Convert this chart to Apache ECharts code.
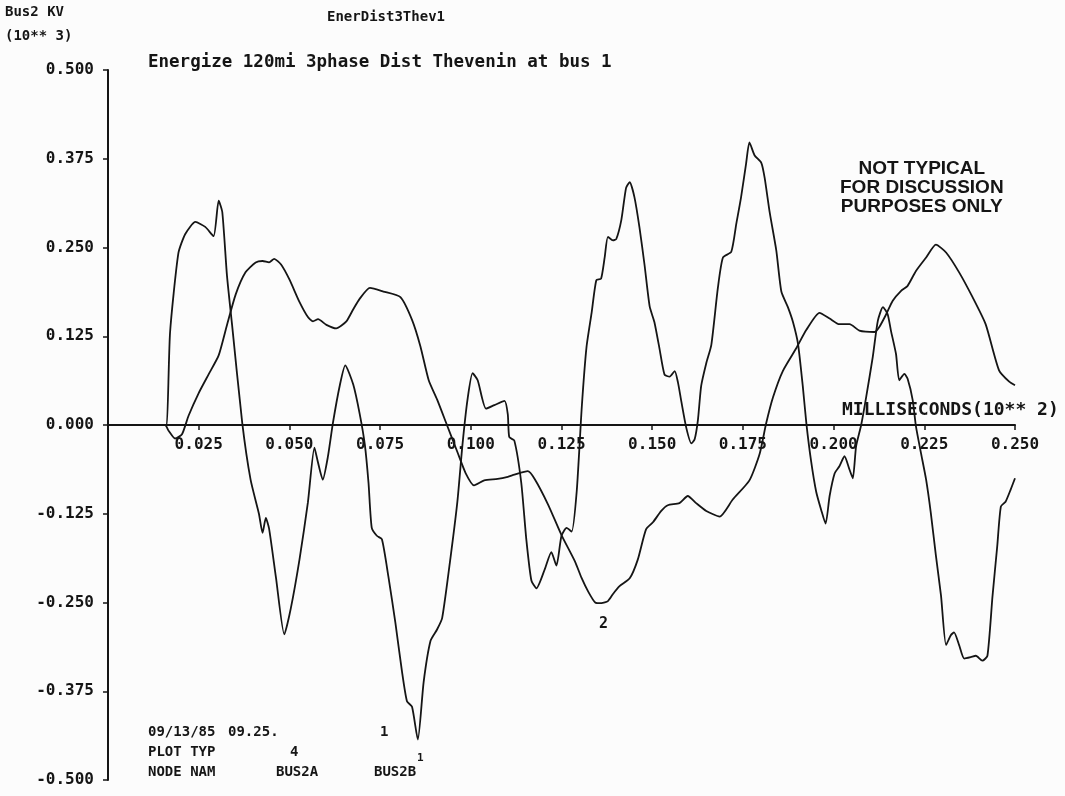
<!DOCTYPE html>
<html>
<head>
<meta charset="utf-8">
<script src="https://cdn.jsdelivr.net/npm/echarts@6/dist/echarts.min.js"></script>
<style>
  html, body { margin: 0; padding: 0; background: #fcfcfc; }
  #chart { width: 1065px; height: 796px; }
</style>
</head>
<body>
<div id="chart"></div>
<script>
// time in units of 10**2 ms, voltage in units of 10**3 kV (as printed on the plot)
const xTicks = [0.025, 0.05, 0.075, 0.1, 0.125, 0.15, 0.175, 0.2, 0.225, 0.25];
const yTicks = [-0.5, -0.375, -0.25, -0.125, 0, 0.125, 0.25, 0.375, 0.5];

// curve 1
const curve1Time = [
  0, 15.7, 16.2, 17.1, 19.4, 21.3, 24.1, 26.8, 29.1, 30.5, 31.5, 32.8, 34.2, 37.0, 39.3,
  41.6, 42.6, 43.5, 44.4, 46.3, 48.6, 50.4, 52.8, 55.1, 56.9, 57.8, 59.2, 60.6, 62.0, 63.9,
  65.4, 67.6, 69.4, 70.8, 71.8, 72.7, 74.1, 75.5, 77.3, 79.2, 81.0, 82.4, 83.8, 85.4, 87.0,
  88.9, 90.7, 92.1, 94.4, 96.3, 97.7, 99.1, 100.5, 101.9, 104.2, 106.5, 109.3, 110.2, 110.6, 112.0,
  113.9, 115.3, 116.7, 118.1, 120.4, 122.2, 123.6, 125.0, 126.4, 127.8, 129.2, 130.6, 131.9, 133.3, 134.6,
  135.9, 136.9, 137.8, 139.2, 140.1, 141.5, 142.8, 143.8, 145.1, 146.5, 147.9, 149.3, 150.6, 152.0, 153.4,
  154.8, 156.2, 157.1, 158.0, 159.4, 160.8, 161.7, 162.6, 163.5, 164.9, 166.3, 168.1, 169.5, 171.8, 173.2,
  174.5, 175.9, 176.8, 178.2, 180.1, 181.0, 182.4, 184.2, 185.6, 187.4, 188.8, 190.2, 191.5, 192.5, 193.8,
  195.2, 196.6, 197.8, 198.9, 200.3, 201.6, 203.0, 204.4, 205.3, 206.2, 207.6, 209.0, 210.8, 212.2, 213.6,
  214.9, 215.8, 217.2, 218.1, 219.5, 220.4, 221.8, 222.7, 224.1, 225.5, 226.8, 228.2, 229.6, 231.0, 232.3,
  233.2, 234.6, 236.0, 237.8, 239.2, 241.0, 242.4, 243.8, 245.1, 246.1, 247.4, 248.8, 250.0
];
const curve1Kv = [
  0, 0, 0, 0.130, 0.242, 0.269, 0.286, 0.279, 0.266, 0.316, 0.300, 0.210, 0.141, 0.003, -0.077,
  -0.125, -0.152, -0.131, -0.146, -0.215, -0.295, -0.258, -0.189, -0.109, -0.032, -0.051, -0.077, -0.045, 0.003, 0.056,
  0.084, 0.057, 0.015, -0.028, -0.081, -0.145, -0.156, -0.161, -0.214, -0.278, -0.346, -0.389, -0.397, -0.443, -0.362,
  -0.304, -0.288, -0.272, -0.187, -0.108, -0.028, 0.036, 0.073, 0.063, 0.023, 0.028, 0.034, 0.015, -0.017, -0.022,
  -0.081, -0.161, -0.219, -0.230, -0.203, -0.179, -0.198, -0.156, -0.145, -0.150, -0.093, 0.026, 0.110, 0.158, 0.204,
  0.206, 0.236, 0.265, 0.260, 0.262, 0.289, 0.334, 0.342, 0.321, 0.278, 0.225, 0.167, 0.145, 0.108, 0.071,
  0.068, 0.076, 0.060, 0.034, -0.004, -0.026, -0.020, 0.007, 0.055, 0.087, 0.113, 0.193, 0.236, 0.244, 0.284,
  0.321, 0.369, 0.398, 0.380, 0.369, 0.348, 0.299, 0.246, 0.188, 0.166, 0.145, 0.114, 0.055, 0.002, -0.051,
  -0.094, -0.120, -0.139, -0.100, -0.068, -0.058, -0.044, -0.063, -0.075, -0.030, 0.000, 0.040, 0.096, 0.147, 0.166,
  0.156, 0.133, 0.100, 0.063, 0.072, 0.065, 0.035, -0.002, -0.040, -0.077, -0.124, -0.184, -0.240, -0.310, -0.296,
  -0.292, -0.310, -0.329, -0.327, -0.325, -0.332, -0.325, -0.241, -0.171, -0.115, -0.108, -0.091, -0.075
];

// curve 2
const curve2Time = [
  0, 15.7, 16.7, 18.5, 20.4, 22.2, 25.0, 27.8, 30.5, 32.8, 35.2, 37.9, 40.7, 42.6, 44.4,
  45.8, 47.7, 50.0, 52.8, 55.1, 56.5, 57.9, 60.2, 62.9, 65.7, 67.6, 69.4, 72.2, 75.9, 80.6,
  83.8, 86.1, 88.4, 90.7, 93.5, 96.3, 98.6, 100.9, 103.7, 107.4, 110.2, 112.0, 115.7, 117.6, 121.3,
  125.0, 128.7, 130.5, 132.4, 134.3, 136.0, 137.8, 139.2, 141.0, 143.8, 146.0, 148.3, 150.2, 152.5, 154.3,
  157.5, 159.8, 162.1, 164.9, 168.6, 172.2, 176.8, 179.6, 181.4, 183.3, 186.0, 189.7, 192.5, 196.1, 198.9,
  201.6, 204.4, 207.1, 211.3, 212.6, 214.5, 216.3, 218.6, 220.4, 222.7, 225.5, 228.2, 231.0, 234.6, 238.3,
  241.9, 245.6, 248.4, 250.0
];
const curve2Kv = [
  0, 0, -0.008, -0.019, -0.013, 0.013, 0.045, 0.072, 0.098, 0.141, 0.184, 0.215, 0.229, 0.231, 0.229,
  0.234, 0.226, 0.205, 0.173, 0.152, 0.146, 0.149, 0.141, 0.136, 0.146, 0.163, 0.178, 0.193, 0.188, 0.180,
  0.148, 0.111, 0.063, 0.036, -0.001, -0.038, -0.068, -0.085, -0.078, -0.076, -0.073, -0.070, -0.065, -0.076, -0.112,
  -0.155, -0.192, -0.215, -0.235, -0.250, -0.251, -0.248, -0.238, -0.227, -0.216, -0.190, -0.147, -0.137, -0.121, -0.113,
  -0.110, -0.100, -0.110, -0.121, -0.129, -0.105, -0.078, -0.041, 0.002, 0.039, 0.076, 0.108, 0.134, 0.158, 0.150,
  0.142, 0.142, 0.133, 0.131, 0.138, 0.156, 0.175, 0.189, 0.196, 0.217, 0.236, 0.254, 0.243, 0.215, 0.180,
  0.142, 0.077, 0.061, 0.056
];

const mono = '"DejaVu Sans Mono", "Liberation Mono", monospace';
const sans = '"Liberation Sans", Arial, sans-serif';
const ink = '#151515';

function pairs(t, v) {
  return t.map((x, i) => [x / 1000, v[i]]);
}

function txt(left, top, text, size, extra) {
  return {
    type: 'text',
    left: left,
    top: top,
    style: Object.assign({
      text: text,
      fill: ink,
      font: `bold ${size}px ${mono}`,
    }, extra || {}),
  };
}

const options = {
  backgroundColor: '#fcfcfc',
  animation: false,
  grid: {
    left: 108,
    right: 50,
    top: 70,
    bottom: 16,
    containLabel: false,
    outerBoundsMode: 'none',
  },
  xAxis: {
    type: 'value',
    min: 0,
    max: 0.25,
    interval: 0.025,
    position: 'bottom',
    offset: -355,
    splitLine: { show: false },
    axisLine: { onZero: false, lineStyle: { color: ink, width: 2 } },
    axisTick: { show: true, length: 5, inside: false, lineStyle: { color: ink, width: 1.5 } },
    axisLabel: {
      color: ink,
      fontFamily: mono,
      fontWeight: 'bold',
      fontSize: 16,
      margin: 12,
      formatter: (v) => (v === 0 ? '' : v.toFixed(3)),
    },
  },
  yAxis: {
    type: 'value',
    min: -0.5,
    max: 0.5,
    interval: 0.125,
    splitLine: { show: false },
    axisLine: { show: true, lineStyle: { color: ink, width: 2 } },
    axisTick: { show: true, length: 5, lineStyle: { color: ink, width: 1.5 } },
    axisLabel: {
      color: ink,
      fontFamily: mono,
      fontWeight: 'bold',
      fontSize: 16,
      margin: 14,
      formatter: (v) => v.toFixed(3),
    },
  },
  series: [
    {
      name: '1',
      type: 'line',
      data: pairs(curve1Time, curve1Kv),
      showSymbol: false,
      smooth: 0.2,
      lineStyle: { color: ink, width: 1.8 },
    },
    {
      name: '2',
      type: 'line',
      data: pairs(curve2Time, curve2Kv),
      showSymbol: false,
      smooth: 0.2,
      lineStyle: { color: ink, width: 1.8 },
    },
  ],
  graphic: [
    txt(5, 5, 'Bus2 KV', 14),
    txt(5, 29, '(10** 3)', 14),
    txt(327, 10, 'EnerDist3Thev1', 14),
    txt(148, 53, 'Energize 120mi 3phase Dist Thevenin at bus 1', 17.5),
    txt(842, 401, 'MILLISECONDS(10** 2)', 18),
    {
      type: 'group',
      left: 840,
      top: 159,
      children: [
        { type: 'text', x: 87, y: 0, style: { text: 'NOT TYPICAL', fill: ink, align: 'center', font: `bold 19px ${sans}` } },
        { type: 'text', x: 87, y: 19, style: { text: 'FOR DISCUSSION', fill: ink, align: 'center', font: `bold 19px ${sans}` } },
        { type: 'text', x: 87, y: 38, style: { text: 'PURPOSES ONLY', fill: ink, align: 'center', font: `bold 19px ${sans}` } },
      ],
    },
    txt(148, 725, '09/13/85', 14),
    txt(228, 725, '09.25.', 14),
    txt(380, 725, '1', 14),
    txt(148, 745, 'PLOT TYP', 14),
    txt(290, 745, '4', 14),
    txt(148, 765, 'NODE NAM', 14),
    txt(276, 765, 'BUS2A', 14),
    txt(374, 765, 'BUS2B', 14),
    txt(417, 753, '1', 11),
    txt(599, 617, '2', 15),
  ],
};

function initChart() {
  const myChart = echarts.init(document.getElementById('chart'));
  myChart.setOption(options);
}

initChart();
</script>
</body>
</html>
